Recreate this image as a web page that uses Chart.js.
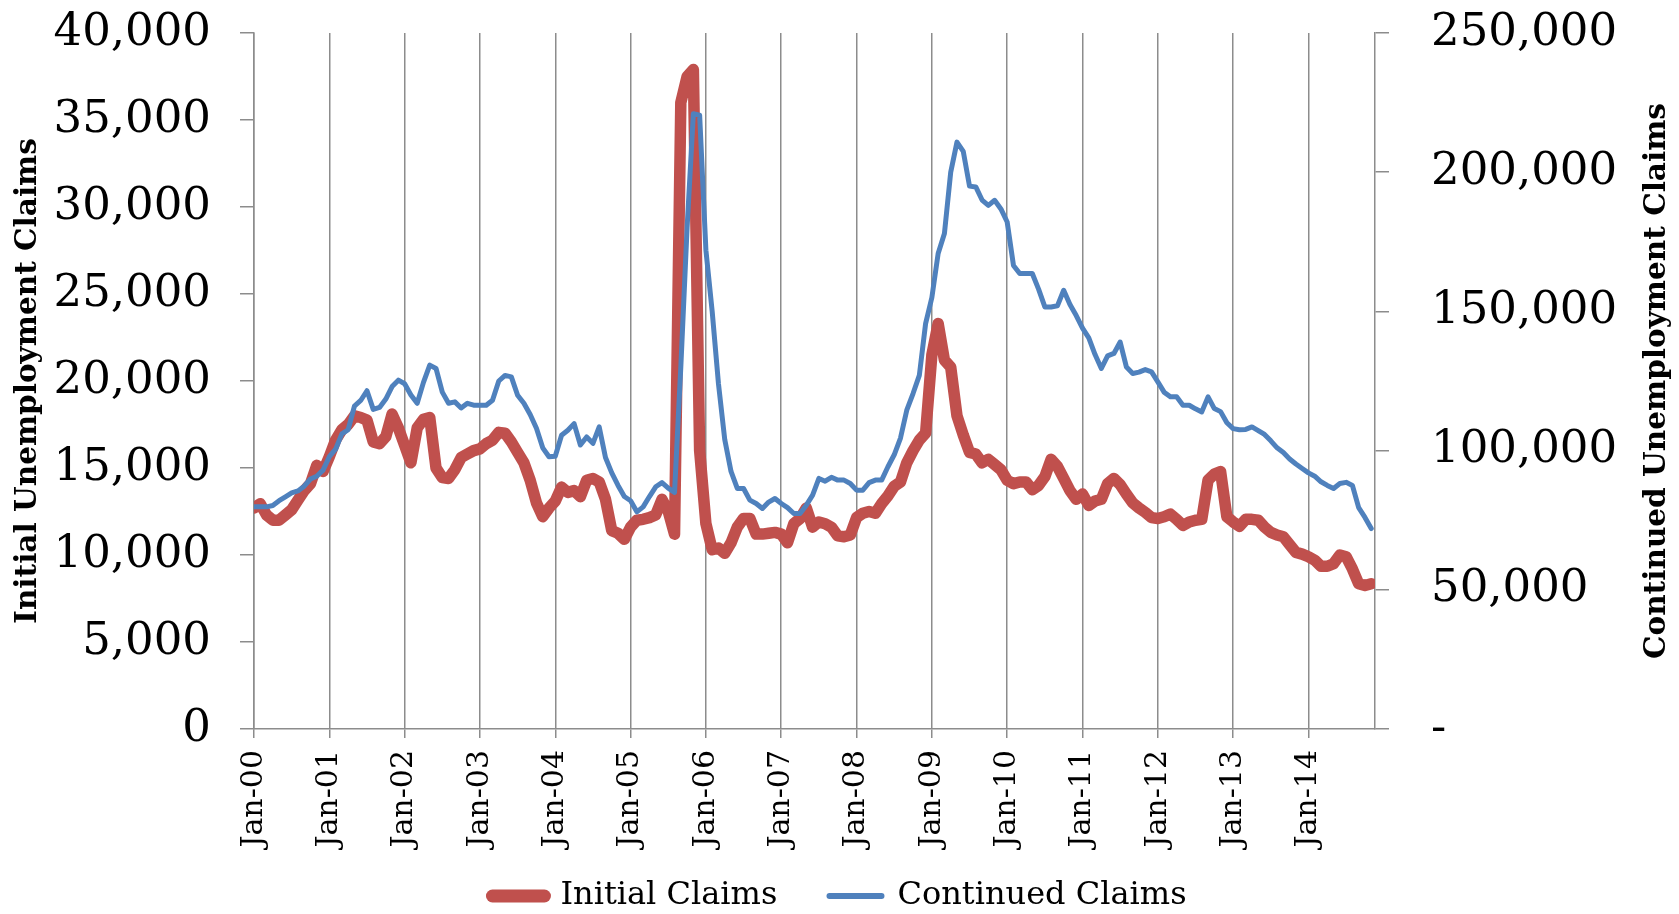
<!DOCTYPE html>
<html>
<head>
<meta charset="utf-8">
<title>Initial and Continued Unemployment Claims</title>
<script src="https://cdn.jsdelivr.net/npm/chart.js@4/dist/chart.umd.min.js"></script>
<style>
  html, body { margin: 0; padding: 0; background: #fff; }
  #wrap { width: 1679px; height: 914px; }
</style>
</head>
<body>
<div id="wrap"><canvas id="myChart" width="1679" height="914"></canvas></div>
<script>
    // tick labels on the x axis, one per January
    const yearLabels = ['Jan-00', 'Jan-01', 'Jan-02', 'Jan-03', 'Jan-04', 'Jan-05', 'Jan-06', 'Jan-07',
                        'Jan-08', 'Jan-09', 'Jan-10', 'Jan-11', 'Jan-12', 'Jan-13', 'Jan-14'];
    const monthNames = ['Jan', 'Feb', 'Mar', 'Apr', 'May', 'Jun', 'Jul', 'Aug', 'Sep', 'Oct', 'Nov', 'Dec'];

    // monthly values, Jan-00 .. Nov-14
    const initialClaims = [
      12700, 12950, 12300, 12000, 12000, 12300, 12600, 13150, 13700, 14100, 15150, 14800,
      15650, 16600, 17200, 17500, 18000, 17900, 17750, 16500, 16400, 16800, 18100, 17300,
      16300, 15300, 17300, 17800, 17900, 15000, 14450, 14400, 14900, 15600, 15800, 16000,
      16100, 16400, 16600, 17050, 17000, 16500, 15900, 15300, 14300, 13000, 12200, 12700,
      13100, 13900, 13600, 13700, 13350, 14300, 14400, 14200, 13200, 11400, 11250, 10900,
      11600, 12000, 12050, 12150, 12300, 13200, 12500, 11200, 36000, 37500, 37900, 16000,
      11800, 10300, 10400, 10100, 10700, 11600, 12100, 12100, 11200, 11200, 11250, 11300,
      11200, 10700, 11800, 12100, 12700, 11600, 11900, 11800, 11600, 11100, 11050, 11150,
      12150, 12400, 12500, 12400, 12950, 13400, 13950, 14200, 15300, 16000, 16600, 17000,
      21500, 23300, 21200, 20800, 18000, 16900, 15900, 15800, 15300, 15500, 15200, 14900,
      14300, 14100, 14200, 14200, 13750, 14000, 14500, 15500, 15100, 14400, 13700, 13200,
      13500, 12850, 13100, 13200, 14100, 14400, 14050, 13500, 13000, 12700, 12450, 12150,
      12100, 12200, 12350, 12050, 11700, 11900, 12000, 12050, 14300, 14650, 14800, 12200,
      11900, 11650, 12050, 12050, 12000, 11600, 11300, 11150, 11050, 10600, 10150, 10050,
      9900, 9700, 9350, 9350, 9500, 10000, 9900, 9200, 8350, 8250, 8350
    ];
    const continuedClaims = [
      79800, 79800, 79800, 80300, 82000, 83400, 84800, 85500, 87200, 89800, 90800, 93000,
      97800, 100500, 106000, 107500, 116000, 118000, 121500, 114800, 115500, 118500, 123000, 125300,
      124000, 120000, 117000, 124500, 130700, 129500, 121000, 117000, 117500, 115300, 117000, 116300,
      116300, 116300, 118100, 125000, 127000, 126500, 119900, 117000, 113000, 108000, 101000, 97800,
      98000, 105500, 107300, 109700, 102000, 104900, 102600, 108500, 97500, 92000, 87500, 83500,
      82000, 78000, 79800, 83500, 87000, 88500, 86500, 85000, 130000, 180000, 221000, 220500,
      172000, 150000, 124000, 104000, 92500, 86400, 86400, 82200, 81000, 79200, 81500, 82800,
      81000, 79500, 77400, 77400, 80400, 84000, 90000, 89000, 90400, 89400, 89400, 88200,
      85800, 85800, 88500, 89400, 89400, 94200, 98500, 104500, 114500, 120500, 127000, 145600,
      155000, 170800, 178000, 200000, 210800, 207500, 195000, 194700, 190000, 188100, 189900, 186800,
      182100, 166500, 163600, 163600, 163600, 158000, 151600, 151600, 152000, 157600, 152500, 148500,
      144000, 140500, 134500, 129500, 134000, 134900, 139000, 130000, 127700, 128200, 129100, 128300,
      124700, 121000, 119300, 119300, 116300, 116300, 115000, 113900, 119300, 115100, 114000, 110000,
      107900, 107500, 107600, 108500, 107200, 105800, 103500, 101000, 99300, 97000, 95200, 93600,
      92000, 90800, 88800, 87500, 86400, 88200, 88600, 87500, 79500, 76000, 72000
    ];

    // month labels for every point
    const months = [];
    for (let i = 0; i < initialClaims.length; i++) {
      months.push(monthNames[i % 12] + '-' + String(Math.floor(i / 12)).padStart(2, '0'));
    }

    const RED = '#C0504D';
    const BLUE = '#4F81BD';
    const AXIS = '#8c8c8c';
    const SERIF = '"DejaVu Serif", "Liberation Serif", serif';

    Chart.defaults.font.family = SERIF;
    Chart.defaults.color = '#000';

    // right axis title reads bottom to top, so it is drawn by hand
    const rightTitle = {
      id: 'rightTitle',
      afterDraw(chart) {
        const ctx = chart.ctx;
        const s = chart.scales.y1;
        ctx.save();
        ctx.translate(s.right - 22, (s.top + s.bottom) / 2);
        ctx.rotate(-Math.PI / 2);
        ctx.font = 'bold 29.5px ' + SERIF;
        ctx.fillStyle = '#000';
        ctx.textAlign = 'center';
        ctx.textBaseline = 'middle';
        ctx.fillText('Continued Unemployment Claims', 0, 0);
        ctx.restore();
      }
    };

    const legendLineWidths = [13, 6];
    // extra room after each legend entry (the legend padding is limited by the axis box)
    const legendTrail = ['\u2002 ', ''];

    // keep the axis boxes at fixed sizes, no extra label padding
    const fixBox = (w, h) => (s) => {
      if (w) s.width = w;
      if (h) s.height = h;
      s.paddingTop = 0; s.paddingBottom = 0; s.paddingLeft = 0; s.paddingRight = 0;
    };

    const data = {
      labels: months,
      datasets: [{
        label: 'Initial Claims',
        data: initialClaims.map((v, i) => ({x: i, y: v})),
        borderColor: RED,
        backgroundColor: RED,
        borderWidth: 11.5,
        borderJoinStyle: 'round',
        borderCapStyle: 'round',
        pointRadius: 0,
        tension: 0,
        yAxisID: 'y',
        order: 2
      },
      {
        label: 'Continued Claims',
        data: continuedClaims.map((v, i) => ({x: i, y: v})),
        borderColor: BLUE,
        backgroundColor: BLUE,
        borderWidth: 5,
        borderJoinStyle: 'round',
        borderCapStyle: 'round',
        pointRadius: 0,
        tension: 0,
        yAxisID: 'y1',
        order: 1
      }]
    };

    const config = {
      type: 'line',
      data,
      plugins: [rightTitle],
      options: {
        responsive: false,
        animation: false,
        layout: { padding: { top: 33, left: 0, right: 0, bottom: -8 } },
        plugins: {
          tooltip: { enabled: false },
          legend: {
            position: 'bottom',
            labels: {
              usePointStyle: true,
              pointStyle: 'line',
              pointStyleWidth: 52,
              padding: 26,
              font: { size: 32 },
              color: '#000',
              sort: (a, b) => a.datasetIndex - b.datasetIndex,
              generateLabels: (chart) =>
                Chart.defaults.plugins.legend.labels.generateLabels(chart).map((item) => {
                  item.lineWidth = legendLineWidths[item.datasetIndex];
                  item.lineCap = 'round';
                  item.text = item.text + legendTrail[item.datasetIndex];
                  return item;
                })
            }
          }
        },
        scales: {
          x: {
            type: 'linear',
            min: 0,
            max: 178.6,
            afterBuildTicks: (s) => { s.ticks = yearLabels.map((l, i) => ({value: i * 12})); },
            afterFit: fixBox(0, 125),
            ticks: {
              autoSkip: false,
              minRotation: 90,
              maxRotation: 90,
              padding: 12,
              font: { size: 30 },
              callback: (v, i) => yearLabels[i]
            },
            grid: { color: AXIS, lineWidth: 1.5, tickLength: 9 },
            border: { color: AXIS, width: 1.5 }
          },
          y: {
            position: 'left',
            min: 0,
            max: 40000,
            afterFit: fixBox(254, 0),
            ticks: {
              stepSize: 5000,
              padding: 29,
              font: { size: 45 },
              callback: (v) => v.toLocaleString('en-US')
            },
            grid: { drawOnChartArea: false, color: AXIS, lineWidth: 1.5, tickLength: 14 },
            border: { color: AXIS, width: 1.5 },
            title: {
              display: true,
              text: 'Initial Unemployment Claims',
              font: { size: 29.5, weight: 'bold' },
              padding: { top: 11, bottom: 0 }
            }
          },
          y1: {
            position: 'right',
            min: 0,
            max: 250000,
            afterFit: fixBox(304, 0),
            ticks: {
              stepSize: 50000,
              padding: 42,
              font: { size: 45 },
              callback: (v) => v === 0 ? '-' : v.toLocaleString('en-US')
            },
            grid: { drawOnChartArea: false, color: AXIS, lineWidth: 1.5, tickLength: 14 },
            border: { color: AXIS, width: 1.5 }
          }
        }
      }
    };

    const myChart = new Chart(document.getElementById('myChart'), config);
</script>
</body>
</html>
